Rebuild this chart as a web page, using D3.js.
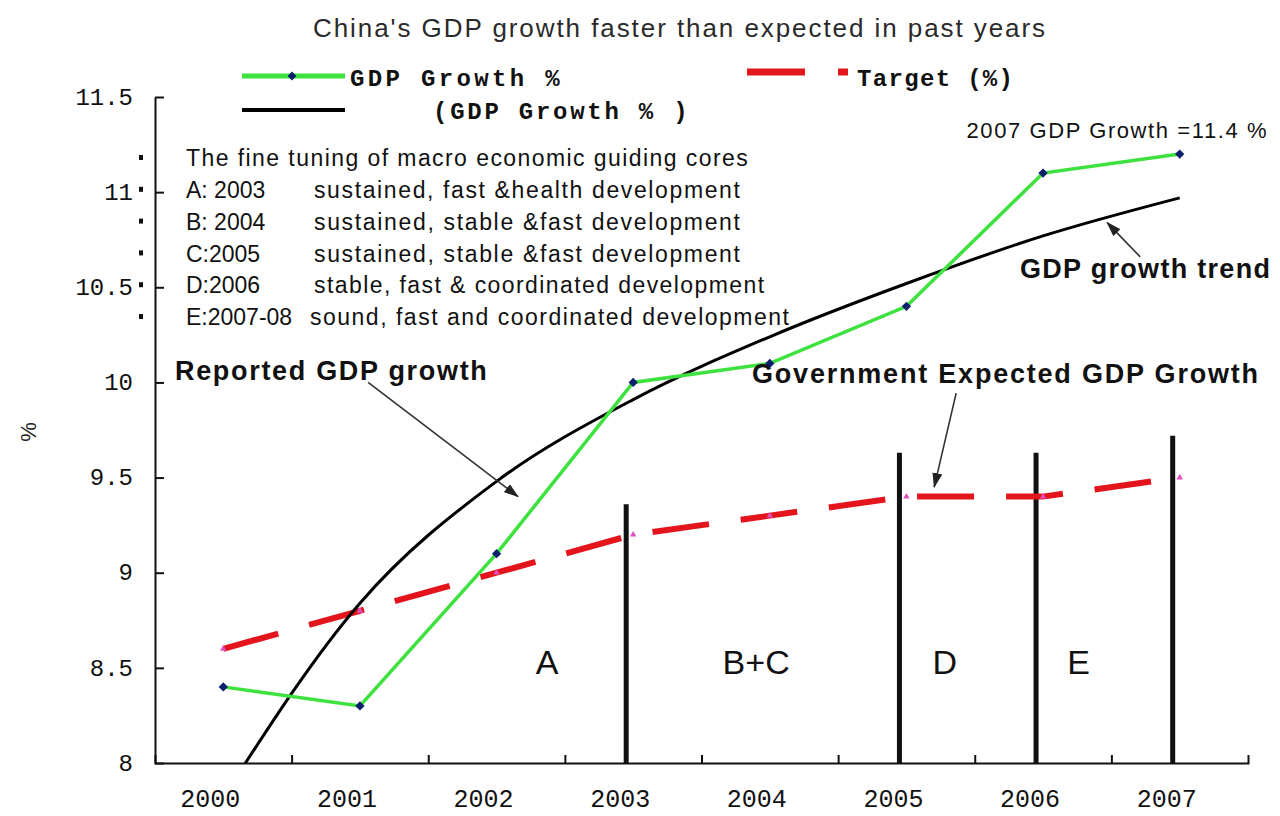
<!DOCTYPE html>
<html>
<head>
<meta charset="utf-8">
<script src="https://cdn.jsdelivr.net/npm/d3@7"></script>
<style>
  html, body { margin: 0; padding: 0; background: #fff; overflow: hidden; }
  svg { display: block; }
  text { font-family: "Liberation Sans", Arial, sans-serif; }
  .mono { font-family: "Liberation Mono", "DejaVu Sans Mono", monospace; }
</style>
</head>
<body>
<svg id="chart"></svg>
<script>
// ---- data ----
var years = ["2000", "2001", "2002", "2003", "2004", "2005", "2006", "2007"];
var gdpGrowth = [8.4, 8.3, 9.1, 10.0, 10.1, 10.4, 11.1, 11.2];
var target = [8.6, 8.8, 9.0, 9.2, 9.3, 9.4, 9.4, 9.5];
var trend = [7.82, 8.84, 9.48, 9.91, 10.24, 10.52, 10.77, 10.97];
var yTicks = [8, 8.5, 9, 9.5, 10, 10.5, 11, 11.5];

// policy period dividers and their labels
var dividerYears = ["2003", "2005", "2006", "2007"];
var dividerTops = [9.36, 9.63, 9.63, 9.72];
var periodNames = ["A", "B+C", "D", "E"];
var periodAt = [2.37, 3.9, 5.28, 6.26];   // in year-index units

var noteHead = "The fine tuning of macro economic guiding cores";
var noteKeys = ["A: 2003", "B: 2004", "C:2005", "D:2006", "E:2007-08"];
var noteTexts = ["sustained, fast &health development",
                 "sustained, stable &fast development",
                 "sustained, stable &fast development",
                 "stable, fast & coordinated development",
                 "sound, fast and coordinated development"];

var width = 1280, height = 816,
    margin = {top: 97, right: 32, bottom: 53, left: 155},
    innerWidth = width - margin.left - margin.right,
    innerHeight = height - margin.top - margin.bottom;

var xScale = d3.scaleBand()
      .domain(years)
      .range([0, innerWidth])
      .padding(0),
    xIdx = d3.scaleLinear()
      .domain([-0.5, years.length - 0.5])
      .range([0, innerWidth]),
    yScale = d3.scaleLinear()
      .domain([8, 11.5])
      .range([innerHeight, 0]);

function cx(y) { return xScale(y) + xScale.bandwidth() / 2; }

// spread a text's letters so it spans about w pixels
function spread(sel, w) {
  sel.each(function() {
    var t = this, s = t.textContent.length;
    var extra = (w - t.getComputedTextLength()) / Math.max(1, s - 1);
    d3.select(t).style("letter-spacing", extra.toFixed(2) + "px");
  });
}

var svg = d3.select("#chart")
    .attr("width", width)
    .attr("height", height);

svg.append("rect").attr("width", width).attr("height", height).attr("fill", "#fff");

svg.append("text")
    .attr("x", 313).attr("y", 37)
    .style("font-size", "26px").style("fill", "#2a2a2a")
    .text("China's GDP growth faster than expected in past years")
    .call(spread, 732);

var g = svg.append("g")
    .attr("transform", "translate(" + margin.left + "," + margin.top + ")");

g.append("defs").append("clipPath").attr("id", "plot")
  .append("rect").attr("width", innerWidth).attr("height", innerHeight);

g.select("defs").append("marker")
    .attr("id", "arrow")
    .attr("markerUnits", "userSpaceOnUse")
    .attr("markerWidth", 15).attr("markerHeight", 11)
    .attr("refX", 14).attr("refY", 5)
    .attr("orient", "auto")
  .append("path")
    .attr("d", "M0,0L15,5L0,10Z")
    .attr("fill", "#222");

// ---- axes (lines and ticks from d3 axes, labels placed from the same scales) ----
g.append("g")
    .attr("class", "axis axis-x")
    .attr("transform", "translate(0," + innerHeight + ")")
    .call(d3.axisBottom(xIdx)
      .tickValues(d3.range(1, years.length).map(function(i) { return i - 0.5; }))
      .tickSizeInner(-8).tickSizeOuter(-8)
      .tickFormat(""));

g.append("g")
    .attr("class", "axis axis-y")
    .call(d3.axisLeft(yScale)
      .tickValues(yTicks)
      .tickSizeInner(-9).tickSizeOuter(0)
      .tickFormat(""));

g.selectAll(".axis path, .axis line")
    .attr("stroke", "#111").attr("stroke-width", 2);

svg.append("g").attr("class", "xlabels")
  .selectAll("text")
  .data(years).enter()
  .append("text")
    .attr("class", "mono")
    .attr("x", function(d) { return margin.left + cx(d) - 13; })
    .attr("y", margin.top + innerHeight + 44)
    .attr("text-anchor", "middle")
    .style("font-size", "25px").style("fill", "#111")
    .text(function(d) { return d; });

svg.append("g").attr("class", "ylabels")
  .selectAll("text")
  .data(yTicks).enter()
  .append("text")
    .attr("class", "mono")
    .attr("x", margin.left - 22)
    .attr("y", function(d) { return margin.top + yScale(d); })
    .attr("dy", "0.32em")
    .attr("text-anchor", "end")
    .style("font-size", "24px").style("fill", "#111")
    .text(function(d) { return d; });

svg.append("text")
    .attr("x", 36).attr("y", 432)
    .attr("transform", "rotate(-90,36,432)")
    .attr("text-anchor", "middle")
    .style("font-size", "22px").style("fill", "#222")
    .text("%");

// ---- period dividers ----
g.selectAll(".divider")
  .data(dividerYears).enter()
  .append("line")
    .attr("class", "divider")
    .attr("x1", function(d) { return cx(d) - 7; })
    .attr("x2", function(d) { return cx(d) - 7; })
    .attr("y1", innerHeight)
    .attr("y2", function(d, i) { return yScale(dividerTops[i]); })
    .attr("stroke", "#111").attr("stroke-width", 5);

g.selectAll(".period")
  .data(periodNames).enter()
  .append("text")
    .attr("class", "period")
    .attr("x", function(d, i) { return xIdx(periodAt[i]); })
    .attr("y", yScale(8.47))
    .attr("text-anchor", "middle")
    .style("font-size", "34px").style("fill", "#111")
    .text(function(d) { return d; });

// ---- series ----
var lineFor = function(vals) {
  return d3.line()
    .x(function(d, i) { return cx(years[i]); })
    .y(function(d) { return yScale(d); })(vals);
};

g.append("path")
    .attr("d", lineFor(target))
    .attr("fill", "none")
    .attr("stroke", "#e3141c").attr("stroke-width", 6)
    .attr("stroke-dasharray", "57,32");

g.selectAll(".tmark")
  .data(target).enter()
  .append("path")
    .attr("class", "tmark")
    .attr("transform", function(d, i) { return "translate(" + cx(years[i]) + "," + yScale(d) + ")"; })
    .attr("d", d3.symbol(d3.symbolTriangle).size(18))
    .attr("fill", "#e050c0");

g.append("path")
    .attr("clip-path", "url(#plot)")
    .attr("d", d3.line()
      .curve(d3.curveMonotoneX)
      .x(function(d, i) { return cx(years[i]); })
      .y(function(d) { return yScale(d); })(trend))
    .attr("fill", "none")
    .attr("stroke", "#000").attr("stroke-width", 3);

g.append("path")
    .attr("d", lineFor(gdpGrowth))
    .attr("fill", "none")
    .attr("stroke", "#3ee23e").attr("stroke-width", 3.5);

g.selectAll(".gmark")
  .data(gdpGrowth).enter()
  .append("path")
    .attr("class", "gmark")
    .attr("transform", function(d, i) { return "translate(" + cx(years[i]) + "," + yScale(d) + ")"; })
    .attr("d", d3.symbol(d3.symbolDiamond2).size(55))
    .attr("fill", "#0b1f6b");

// ---- notes block ----
svg.append("text")
    .attr("x", 186).attr("y", 166)
    .style("font-size", "23px").style("fill", "#111")
    .text(noteHead)
    .call(spread, 562);

var noteWidths = [426, 426, 426, 450, 479];
noteKeys.forEach(function(k, i) {
  var y = 198 + i * 31.8;
  svg.append("text")
      .attr("x", 186).attr("y", y)
      .style("font-size", "23px").style("fill", "#111")
      .text(k);
  svg.append("text")
      .attr("x", i === 4 ? 310 : 314).attr("y", y)
      .style("font-size", "23px").style("fill", "#111")
      .text(noteTexts[i])
      .call(spread, noteWidths[i]);
});

svg.selectAll(".bullet")
  .data(d3.range(noteKeys.length + 1)).enter()
  .append("rect")
    .attr("class", "bullet")
    .attr("x", 139).attr("y", function(d) { return 155 + d * 31.8; })
    .attr("width", 4).attr("height", 5)
    .attr("fill", "#111");

// ---- legend ----
var legend = svg.append("g").attr("class", "legend");
legend.append("line")
    .attr("x1", 242).attr("x2", 345).attr("y1", 76).attr("y2", 76)
    .attr("stroke", "#3ee23e").attr("stroke-width", 5);
legend.append("path")
    .attr("transform", "translate(292,76)")
    .attr("d", d3.symbol(d3.symbolDiamond2).size(50))
    .attr("fill", "#0b1f6b");
legend.append("text")
    .attr("class", "mono")
    .attr("x", 350).attr("y", 86)
    .style("font-size", "24px").style("font-weight", "bold").style("fill", "#111")
    .text("GDP Growth  %")
    .call(spread, 213);

legend.append("line")
    .attr("x1", 747).attr("x2", 848).attr("y1", 72).attr("y2", 72)
    .attr("stroke", "#e3141c").attr("stroke-width", 7)
    .attr("stroke-dasharray", "58,33,10,100");
legend.append("text")
    .attr("class", "mono")
    .attr("x", 857).attr("y", 86)
    .style("font-size", "24px").style("font-weight", "bold").style("fill", "#111")
    .text("Target (%)")
    .call(spread, 156);

legend.append("line")
    .attr("x1", 242).attr("x2", 345).attr("y1", 110).attr("y2", 110)
    .attr("stroke", "#000").attr("stroke-width", 4);
legend.append("text")
    .attr("class", "mono")
    .attr("x", 433).attr("y", 119)
    .style("font-size", "24px").style("font-weight", "bold").style("fill", "#111")
    .text("(GDP Growth  %  )")
    .call(spread, 260);

// ---- callouts (positions in year-index / value units) ----
var callouts = [
  {text: "Reported GDP growth", at: [-0.354, 10.013], len: 312, from: [1.06, 10.0], to: [2.157, 9.40]},
  {text: "Government Expected GDP Growth", at: [3.87, 9.997], len: 506, from: [5.364, 9.944], to: [5.203, 9.45]},
  {text: "GDP growth trend", at: [5.831, 10.549], len: 250, from: [6.711, 10.66], to: [6.469, 10.84]}
];

callouts.forEach(function(c) {
  g.append("text")
      .attr("x", xIdx(c.at[0])).attr("y", yScale(c.at[1]))
      .style("font-size", "27px").style("font-weight", "bold").style("fill", "#111")
      .text(c.text)
      .call(spread, c.len);
  g.append("line")
      .attr("x1", xIdx(c.from[0])).attr("y1", yScale(c.from[1]))
      .attr("x2", xIdx(c.to[0])).attr("y2", yScale(c.to[1]))
      .attr("stroke", "#333").attr("stroke-width", 1.6)
      .attr("marker-end", "url(#arrow)");
});

g.append("text")
    .attr("x", xIdx(5.44)).attr("y", yScale(11.285))
    .style("font-size", "22px").style("fill", "#111")
    .text("2007 GDP Growth =11.4 %")
    .call(spread, 300);
</script>
</body>
</html>
